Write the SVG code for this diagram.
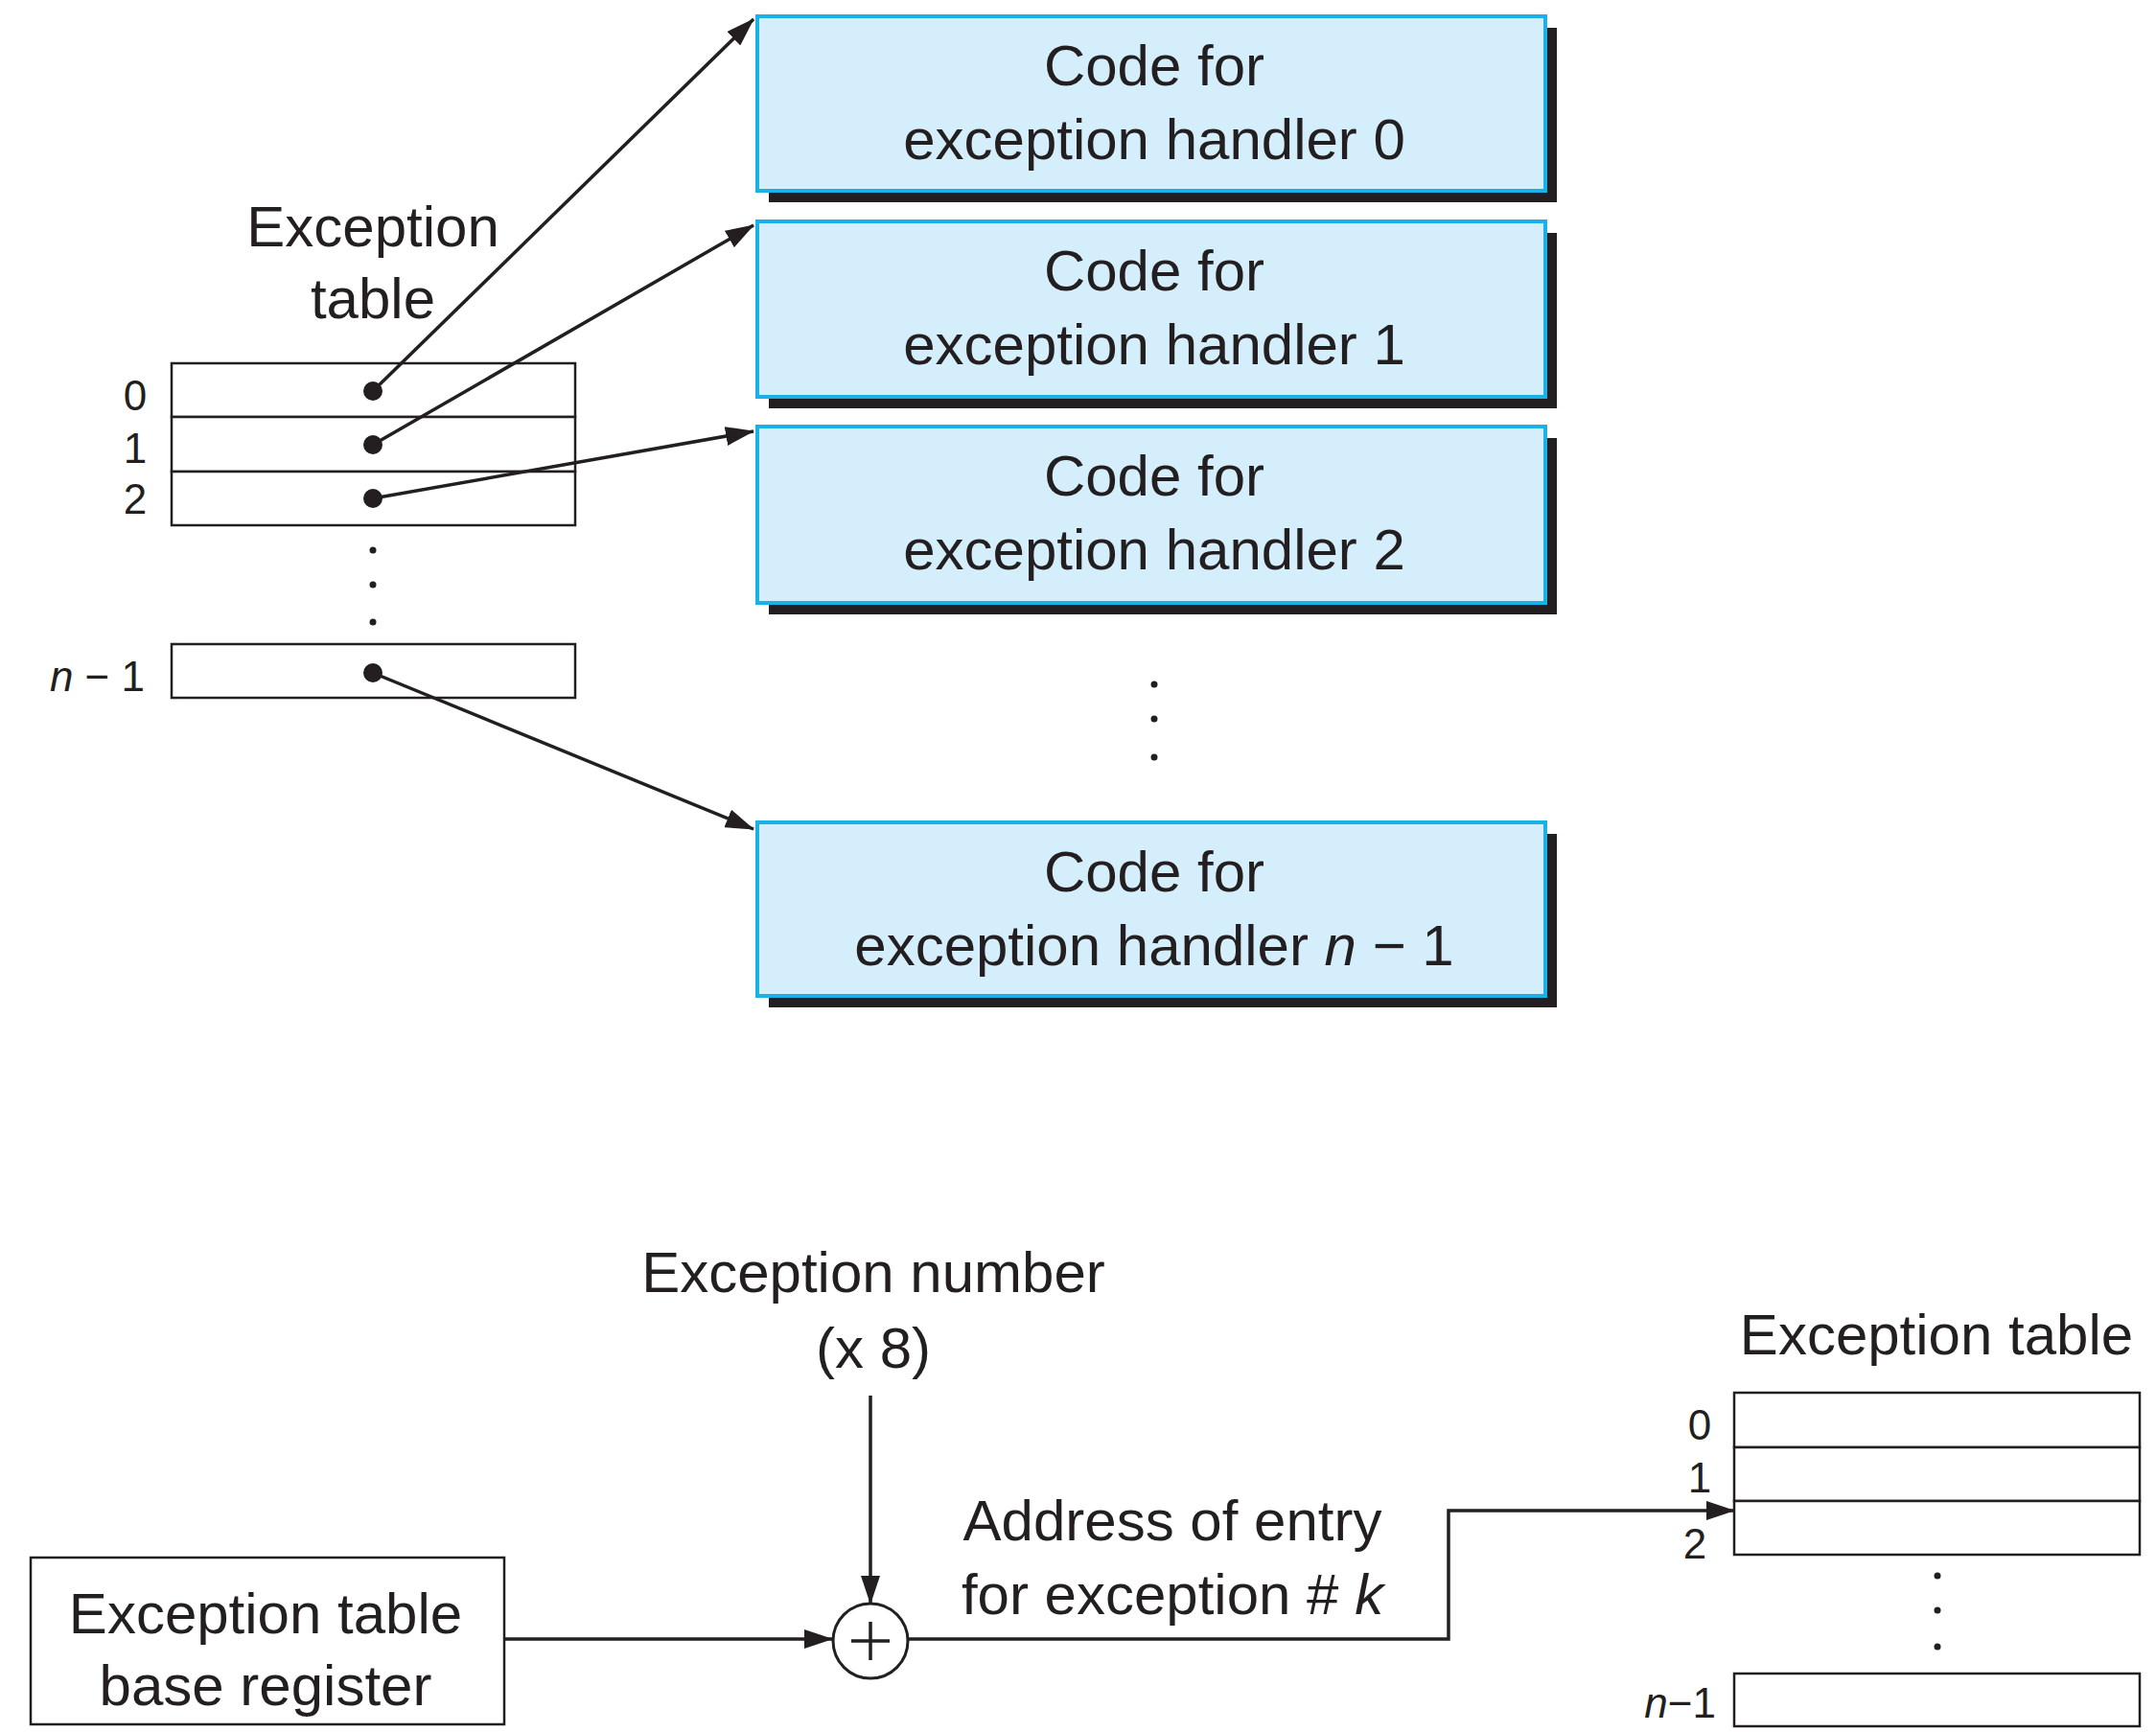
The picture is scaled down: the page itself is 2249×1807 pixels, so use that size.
<svg xmlns="http://www.w3.org/2000/svg" width="2249" height="1807" viewBox="0 0 2249 1807">
<defs>
<marker id="ah" markerWidth="10" markerHeight="8" refX="9" refY="4" orient="auto" markerUnits="userSpaceOnUse" viewBox="0 0 10 8">
</marker>
<marker id="a" viewBox="0 0 30 20" refX="29" refY="10" markerWidth="30" markerHeight="20" markerUnits="userSpaceOnUse" orient="auto"><path d="M0,0 L30,10 L0,20 z" fill="#231f20"/></marker>
</defs>
<style>
text{font-family:"Liberation Sans",Arial,sans-serif;fill:#231f20}
.big{font-size:60px;text-anchor:middle}
.sm{font-size:44px;text-anchor:middle}
.cell{fill:#fff;stroke:#231f20;stroke-width:2.5}
.hb{fill:#d4eefb;stroke:#1ab0e8;stroke-width:4}
.sh{fill:#231f20}
.ln{fill:none;stroke:#231f20;stroke-width:3.5}
.dot{fill:#231f20}
</style>
<rect width="2249" height="1807" fill="#fff"/>
<g id="h0"><rect class="sh" x="802" y="29" width="822" height="182"/><rect class="hb" x="790" y="17" width="822" height="182"/><text class="big" x="1204" y="89">Code for</text><text class="big" x="1204" y="166">exception handler 0</text></g>
<g id="h1"><rect class="sh" x="802" y="243" width="822" height="183"/><rect class="hb" x="790" y="231" width="822" height="183"/><text class="big" x="1204" y="303">Code for</text><text class="big" x="1204" y="380">exception handler 1</text></g>
<g id="h2"><rect class="sh" x="802" y="457" width="822" height="184"/><rect class="hb" x="790" y="445" width="822" height="184"/><text class="big" x="1204" y="517">Code for</text><text class="big" x="1204" y="594">exception handler 2</text></g>
<g id="hn"><rect class="sh" x="802" y="870" width="822" height="181"/><rect class="hb" x="790" y="858" width="822" height="181"/><text class="big" x="1204" y="930">Code for</text><text class="big" x="1204" y="1007">exception handler <tspan font-style="italic">n</tspan> − 1</text></g>
<g id="vdots"><circle class="dot" cx="1204" cy="714" r="3.5"/><circle class="dot" cx="1204" cy="750" r="3.5"/><circle class="dot" cx="1204" cy="790" r="3.5"/></g>
<g id="table1">
<text class="big" x="389" y="257">Exception</text><text class="big" x="389" y="332">table</text>
<rect class="cell" x="179" y="379" width="421" height="56"/><rect class="cell" x="179" y="435" width="421" height="57"/><rect class="cell" x="179" y="492" width="421" height="56"/><rect class="cell" x="179" y="672" width="421" height="56"/>
<text class="sm" x="141" y="428">0</text><text class="sm" x="141" y="483">1</text><text class="sm" x="141" y="536">2</text>
<text font-size="44" x="151" y="721" text-anchor="end"><tspan font-style="italic">n</tspan> − 1</text>
<circle class="dot" cx="389" cy="408" r="10"/><circle class="dot" cx="389" cy="464" r="10"/><circle class="dot" cx="389" cy="520" r="10"/><circle class="dot" cx="389" cy="702" r="10"/>
<circle class="dot" cx="389" cy="574" r="3.5"/><circle class="dot" cx="389" cy="610" r="3.5"/><circle class="dot" cx="389" cy="649" r="3.5"/>
</g>
<g id="connectors">
<line class="ln" x1="389" y1="408" x2="786" y2="20" marker-end="url(#a)"/>
<line class="ln" x1="389" y1="464" x2="786" y2="235" marker-end="url(#a)"/>
<line class="ln" x1="389" y1="520" x2="786" y2="450" marker-end="url(#a)"/>
<line class="ln" x1="389" y1="702" x2="786" y2="865" marker-end="url(#a)"/>
<line class="ln" x1="908" y1="1456" x2="908" y2="1673" marker-end="url(#a)"/>
<line class="ln" x1="526" y1="1710" x2="868" y2="1710" marker-end="url(#a)"/>
<polyline class="ln" points="947,1710 1511,1710 1511,1576 1809,1576" marker-end="url(#a)"/>
</g>
<g id="enum"><text class="big" x="911" y="1348">Exception number</text><text class="big" x="911" y="1427">(x 8)</text></g>
<g id="adder"><circle cx="908" cy="1712" r="39" fill="#fff" stroke="#231f20" stroke-width="3"/><path d="M908,1692 v40 M888,1712 h40" stroke="#231f20" stroke-width="3.5"/></g>
<g id="basereg"><rect class="cell" x="32" y="1625" width="494" height="174" stroke-width="3"/><text class="big" x="277" y="1704">Exception table</text><text class="big" x="277" y="1779">base register</text></g>
<g id="addrlabel"><text class="big" x="1223" y="1607">Address of entry</text><text class="big" x="1223" y="1684">for exception # <tspan font-style="italic">k</tspan></text></g>
<g id="table2">
<text class="big" x="2020" y="1413">Exception table</text>
<rect class="cell" x="1809" y="1453" width="423" height="57"/><rect class="cell" x="1809" y="1510" width="423" height="56"/><rect class="cell" x="1809" y="1566" width="423" height="56"/><rect class="cell" x="1809" y="1746" width="423" height="55"/>
<text class="sm" x="1773" y="1502">0</text><text class="sm" x="1773" y="1557">1</text><text class="sm" x="1768" y="1626">2</text>
<text font-size="44" x="1790" y="1792" text-anchor="end"><tspan font-style="italic">n</tspan>−1</text>
<circle class="dot" cx="2021" cy="1644" r="3.5"/><circle class="dot" cx="2021" cy="1680" r="3.5"/><circle class="dot" cx="2021" cy="1718" r="3.5"/>
</g>
</svg>
